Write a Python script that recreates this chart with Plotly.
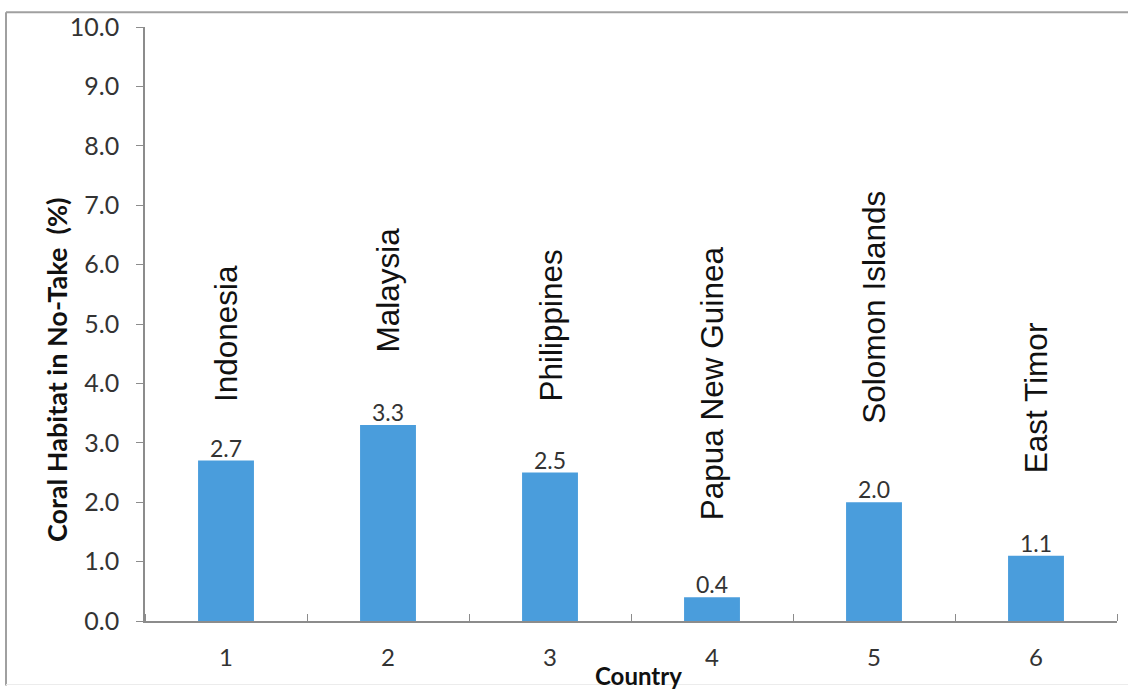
import plotly.graph_objects as go

categories = ["1", "2", "3", "4", "5", "6"]
countries = ["Indonesia", "Malaysia", "Philippines", "Papua New Guinea", "Solomon Islands", "East Timor"]
values = [2.7, 3.3, 2.5, 0.4, 2.0, 1.1]
y_ticks = [0, 1, 2, 3, 4, 5, 6, 7, 8, 9, 10]

# layout / style (pixel offsets of the rotated country labels above each bar)
label_gap_px = [56, 70, 69, 75, 76, 80]

W, H = 1128, 691
L, R, T, B = 145, 11, 22, 70
pw, ph = W - L - R, H - T - B

def px_to_paper_x(px):
    return (px - L) / pw

def px_to_paper_y(py):
    return (H - B - py) / ph

fig = go.Figure()
fig.add_trace(go.Bar(
    x=list(range(len(categories))),
    y=values,
    marker=dict(color="#4a9ddc", line=dict(width=0)),
    width=0.345,
    hoverinfo="skip",
))

for i, (name, v, gap) in enumerate(zip(countries, values, label_gap_px)):
    fig.add_annotation(
        x=i, y=v, xref="x", yref="y",
        text=name, textangle=-90, showarrow=False,
        xanchor="center", yanchor="bottom", yshift=gap,
        font=dict(family="Liberation Sans", size=31.5, color="#111111"),
    )
    fig.add_annotation(
        x=i, y=v, xref="x", yref="y",
        text=f"{v:.1f}", showarrow=False,
        xanchor="center", yanchor="bottom", yshift=-3,
        font=dict(family="Lato", size=23, color="#333333"),
    )

# axis titles
fig.add_annotation(
    x=px_to_paper_x(56), y=px_to_paper_y(368), xref="paper", yref="paper",
    text="<b>Coral Habitat in No-Take  (%)</b>", textangle=-90, showarrow=False,
    xanchor="center", yanchor="middle",
    font=dict(family="Lato", size=27, color="#111111"),
)
fig.add_annotation(
    x=px_to_paper_x(638), y=px_to_paper_y(676), xref="paper", yref="paper",
    text="<b>Country</b>", showarrow=False,
    xanchor="center", yanchor="middle",
    font=dict(family="Lato", size=24, color="#111111"),
)

# outer frame lines (top and left border of the original picture)
fig.add_shape(type="line", xref="paper", yref="paper",
              x0=px_to_paper_x(6), x1=px_to_paper_x(W), y0=px_to_paper_y(7), y1=px_to_paper_y(7),
              line=dict(color="#a0a0a0", width=2))
fig.add_shape(type="line", xref="paper", yref="paper",
              x0=px_to_paper_x(6), x1=px_to_paper_x(6), y0=px_to_paper_y(7), y1=px_to_paper_y(686),
              line=dict(color="#a0a0a0", width=2))
fig.add_shape(type="line", xref="paper", yref="paper",
              x0=px_to_paper_x(6), x1=px_to_paper_x(W), y0=px_to_paper_y(685), y1=px_to_paper_y(685),
              line=dict(color="#ececec", width=1))

fig.update_layout(
    width=W, height=H,
    margin=dict(l=L, r=R, t=T, b=B, pad=0),
    paper_bgcolor="white", plot_bgcolor="white",
    showlegend=False,
    xaxis=dict(
        range=[-0.5, 5.5],
        tickvals=list(range(len(categories))), ticktext=categories,
        showline=True, linecolor="#8c8c8c", linewidth=1.5,
        ticks="", showgrid=False, zeroline=False,
        tickfont=dict(family="Lato", size=24, color="#333333"),
        ticklabelstandoff=14,
        minor=dict(tickvals=[-0.5, 0.5, 1.5, 2.5, 3.5, 4.5, 5.5], ticks="inside",
                   ticklen=7, tickcolor="#8c8c8c", showgrid=False),
    ),
    yaxis=dict(
        range=[0, 10], tickvals=y_ticks, tickformat=".1f",
        showline=True, linecolor="#8c8c8c", linewidth=1.5,
        ticks="outside", ticklen=7, tickcolor="#8c8c8c",
        showgrid=False, zeroline=False,
        tickfont=dict(family="Lato", size=25, color="#333333"),
        ticklabelstandoff=12,
    ),
)

fig.write_html("out.html")
